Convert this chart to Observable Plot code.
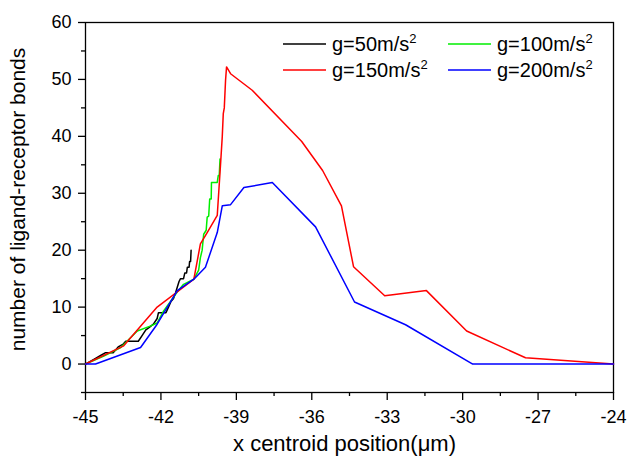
<!DOCTYPE html>
<html>
<head>
<meta charset="utf-8">
<script src="https://cdn.jsdelivr.net/npm/d3@7"></script>
<script src="https://cdn.jsdelivr.net/npm/@observablehq/plot@0.6"></script>
<style>
  html, body { margin: 0; padding: 0; background: #fff; }
  #chart { position: relative; width: 629px; height: 459px; }
  svg { font-family: "Liberation Sans", Arial, sans-serif; }
</style>
</head>
<body>
<div id="chart"></div>
<script>
// g = 50 m/s^2 (black, stepped)
const g50X = [-45, -44.6, -44.4, -44.2, -43.9, -43.7, -43.5, -43.4, -42.9, -42.75, -42.6, -42.45, -42.3, -42.15, -42.1, -41.8, -41.7, -41.6, -41.5, -41.42, -41.35, -41.28, -41.22, -41.1, -41.05, -40.98, -40.95, -40.88, -40.86, -40.82, -40.8];
const g50Y = [0, 1, 1.5, 2, 2, 3, 3.5, 4, 4, 5, 6, 6.5, 7, 8, 9, 9, 10, 11, 11.5, 12.5, 13.5, 14.5, 15, 15, 16, 16, 17, 17, 18, 18, 20];
// g = 100 m/s^2 (green)
const g100X = [-45, -44.27, -43.6, -42.94, -42.4, -42.15, -41.9, -41.36, -41.1, -40.69, -40.5, -40.43, -40.36, -40.3, -40.2, -40.16, -40.1, -40.06, -40.0, -39.99, -39.8, -39.76, -39.72, -39.68, -39.65];
const g100Y = [0, 1.4, 2.9, 5.8, 6.7, 7.2, 9.3, 12.6, 14.0, 14.9, 16.5, 18.7, 20, 22.8, 23.5, 25.8, 26, 29, 29, 31.9, 31.9, 31.9, 33.1, 33.1, 36];
// g = 150 m/s^2 (red)
const g150X = [-45, -43.48, -42.15, -40.69, -40.43, -40.16, -39.76, -39.62, -39.56, -39.52, -39.48, -39.43, -39.39, -39.23, -38.37, -36.4, -35.57, -34.82, -34.34, -33.1, -31.44, -29.84, -27.5, -24];
const g150Y = [0, 3.2, 10.0, 14.9, 21.1, 23.1, 26.1, 35.7, 40, 44, 45, 49.8, 52.2, 51.0, 48.1, 39.1, 34, 27.8, 17.1, 12, 12.9, 5.8, 1.1, 0];
// g = 200 m/s^2 (blue)
const g200X = [-45, -44.6, -42.81, -42.15, -41.35, -40.69, -40.23, -39.76, -39.56, -39.23, -38.7, -37.57, -35.85, -34.3, -32.27, -29.6, -24];
const g200Y = [0, 0, 2.9, 7.0, 12.9, 14.9, 17.0, 23.1, 27.8, 28.0, 31.0, 31.9, 24.1, 10.9, 6.9, 0, 0];

const seriesNames = ["g=50m/s", "g=100m/s", "g=150m/s", "g=200m/s"];
const seriesColors = ["#000000", "#00ee00", "#ff0000", "#0000ff"];
const xTicks = [-45, -42, -39, -36, -33, -30, -27, -24];
const yTicks = [0, 10, 20, 30, 40, 50, 60];
const xMinor = [-43.5, -40.5, -37.5, -34.5, -31.5, -28.5, -25.5];
const yMinor = [-5, 5, 15, 25, 35, 45, 55];

const series = [[g50X, g50Y], [g100X, g100Y], [g150X, g150Y], [g200X, g200Y]];
const rows = [];
series.forEach(([xs, ys], i) => xs.forEach((x, j) => rows.push({x, y: ys[j], s: seriesNames[i]})));

const W = 629, H = 459;
const mL = 85, mR = 16, mT = 22, mB = 67;

const plot = Plot.plot({
  width: W, height: H,
  marginLeft: mL, marginRight: mR, marginTop: mT, marginBottom: mB,
  style: {fontFamily: '"Liberation Sans", Arial, sans-serif', background: "#fff", color: "#000"},
  x: {domain: [-45, -24]},
  y: {domain: [-5, 60]},
  color: {domain: seriesNames, range: seriesColors},
  marks: [
    Plot.frame({stroke: "#000", strokeWidth: 1.3}),
    Plot.axisX({ticks: xTicks, tickSize: 8, tickPadding: 10, fontSize: 18, label: null, strokeWidth: 1.3, tickFormat: d => String(d)}),
    Plot.axisX({ticks: xMinor, tickSize: 4, tickFormat: () => "", label: null, strokeWidth: 1.3}),
    Plot.axisY({ticks: yTicks, tickSize: 7, tickPadding: 7, fontSize: 18, label: null, strokeWidth: 1.3, tickFormat: d => String(d)}),
    Plot.axisY({ticks: yMinor, tickSize: 4, tickFormat: () => "", label: null, strokeWidth: 1.3}),
    Plot.line(rows, {x: "x", y: "y", z: "s", stroke: "s", strokeWidth: 1.5, curve: "linear"}),
    Plot.text(["x centroid position(\u03bcm)"], {frameAnchor: "bottom", dx: -5, dy: 51, fontSize: 22, fill: "#000", textAnchor: "middle", lineAnchor: "middle"}),
    Plot.text(["number of ligand-receptor bonds"], {frameAnchor: "left", dx: -67, dy: -8, rotate: -90, fontSize: 21, fill: "#000", textAnchor: "middle", lineAnchor: "middle"})
  ]
});
document.getElementById("chart").appendChild(plot);

// legend inside the plot area, top right, two columns
const svg = d3.select(plot);
const lg = svg.append("g").attr("font-size", 20).attr("fill", "#000").attr("text-anchor", "start");
const legendPos = [[283, 44], [448, 44], [283, 70], [448, 70]];
seriesNames.forEach((name, i) => {
  const [lx, ly] = legendPos[i];
  lg.append("line").attr("x1", lx).attr("x2", lx + 43).attr("y1", ly).attr("y2", ly)
    .attr("stroke", seriesColors[i]).attr("stroke-width", 1.5);
  const t = lg.append("text").attr("x", lx + 49).attr("y", ly).attr("dy", "0.36em").attr("text-anchor", "start");
  t.append("tspan").text(name);
  t.append("tspan").attr("dy", "-0.6em").attr("font-size", 13).text("2");
});
</script>
</body>
</html>
